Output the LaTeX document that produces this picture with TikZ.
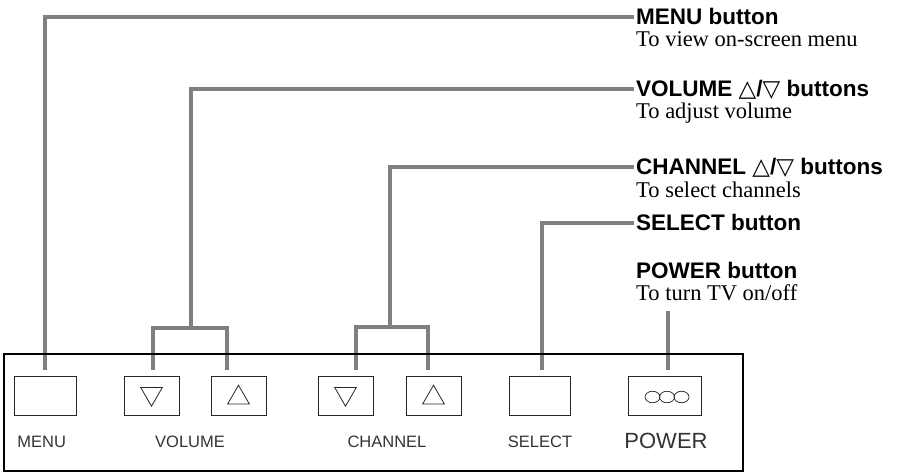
\documentclass[tikz,border=0pt]{standalone}
\usepackage{fontspec}
\setmainfont{Liberation Serif}
\setsansfont{Liberation Sans}
\newfontfamily\symfont{DejaVu Sans}
\usetikzlibrary{shapes.geometric}

\newcommand{\updown}{{\symfont\mdseries\fontsize{23}{23}\selectfont △}/{\symfont\mdseries\fontsize{23}{23}\selectfont ▽}}

\begin{document}
\begin{tikzpicture}[x=1pt, y=-1pt,
	leader/.style={draw=gray, line width=4pt},
	tobtn/.style={shorten >=6pt},
	btn/.style={draw=black!85, line width=0.9pt, minimum width=55pt, minimum height=39pt, inner sep=0pt},
	trisym/.style={draw=black!85, regular polygon, regular polygon sides=3, minimum size=25pt, inner sep=0pt, line width=0.8pt},
	dot/.style={draw=black!85, ellipse, minimum width=15pt, minimum height=11.5pt, inner sep=0pt, line width=0.7pt},
	caption/.style={font=\sffamily\fontsize{16.5}{17}\selectfont, anchor=base, inner sep=0pt, text=black!80},
	title/.style={font=\sffamily\bfseries\fontsize{22.5}{23}\selectfont, anchor=base west, inner sep=2pt, text height=15pt, text depth=0pt},
	desc/.style={font=\rmfamily\fontsize{22.5}{23}\selectfont, anchor=base west, inner sep=2pt}]
	\useasboundingbox (0,0) rectangle (919,474);

	% Buttons {menu, volume, channel, select, power}
	\node [btn, minimum width=62pt]	(menubtn)	at (45,396)		{};
	\node [btn]						(voldn)		at (151.5,396)	{};
	\node [btn]						(volup)		at (238.5,396)	{};
	\node [btn]						(chdn)		at (345.5,396)	{};
	\node [btn]						(chup)		at (433.5,396)	{};
	\node [btn, minimum width=61pt]	(selbtn)	at (539.5,396)	{};
	\node [btn, minimum width=73pt]	(pwrbtn)	at (664.5,396)	{};

	% Symbols on the buttons
	\node [trisym, shape border rotate=180, yshift=2.3pt]	(voldnsym)	at (voldn)	{};
	\node [trisym, yshift=-1.7pt]							(volupsym)	at (volup)	{};
	\node [trisym, shape border rotate=180, yshift=2.3pt]	(chdnsym)	at (chdn)	{};
	\node [trisym, yshift=-1.7pt]							(chupsym)	at (chup)	{};
	\foreach \i in {-1,0,1}
		\node [dot] (pwrdot\i) at ([xshift=\i*14.5pt+2.5pt, yshift=-1pt]pwrbtn.center) {};

	% Captions under the buttons
	\node [caption]								(menucap)	at (41.7,447.5)	{MENU};
	\node [caption]								(volcap)	at (190,447.5)	{VOLUME};
	\node [caption]								(chcap)		at (387,447.5)	{CHANNEL};
	\node [caption]								(selcap)	at (540,447.5)	{SELECT};
	\node [caption, font=\sffamily\fontsize{22}{22}\selectfont]	(pwrcap)	at (666,448.5)	{POWER};

	% Titles and descriptions on the right
	\node [title]	(menutitle)	at (634,24)		{MENU button};
	\node [desc]	(menudesc)	at (634,46.7)	{To view on-screen menu};
	\node [title]	(voltitle)	at (634,96)		{VOLUME \updown\ buttons};
	\node [desc]	(voldesc)	at (634,118.5)	{To adjust volume};
	\node [title]	(chtitle)	at (634,174)	{CHANNEL \updown\ buttons};
	\node [desc]	(chdesc)	at (634,197.5)	{To select channels};
	\node [title]	(seltitle)	at (634,230)	{SELECT button};
	\node [title]	(pwrtitle)	at (634,278)	{POWER button};
	\node [desc]	(pwrdesc)	at (634,300.5)	{To turn TV on/off};

	% Forks and free ends of the leader lines
	\coordinate (volfork)	at (191,328);
	\coordinate (volL)		at (153,328);
	\coordinate (volR)		at (227,328);
	\coordinate (chfork)	at (390,327);
	\coordinate (chL)		at (356,327);
	\coordinate (chR)		at (428,327);
	\coordinate (pwrtop)	at (668,311);

	% Leader lines
	\draw [leader, tobtn] (menutitle.west) -| (menubtn.north);
	\draw [leader] (voltitle.west) -| (volfork);
	\draw [leader, tobtn, shorten <=6pt] (volL |- voldn.north) -- (volL) -- (volR) -- (volR |- volup.north);
	\draw [leader] (chtitle.west) -| (chfork);
	\draw [leader, tobtn, shorten <=6pt] (chL |- chdn.north) -- (chL) -- (chR) -- (chR |- chup.north);
	\draw [leader, tobtn] (seltitle.west) -| ([xshift=2.5pt]selbtn.north);
	\draw [leader, tobtn] (pwrtop) -- (pwrtop |- pwrbtn.north);

	% Front panel
	\node [draw, line width=1.3pt, minimum width=739pt, minimum height=117pt, inner sep=0pt] (panel) at (373.5,412.5) {};

\end{tikzpicture}
\end{document}
